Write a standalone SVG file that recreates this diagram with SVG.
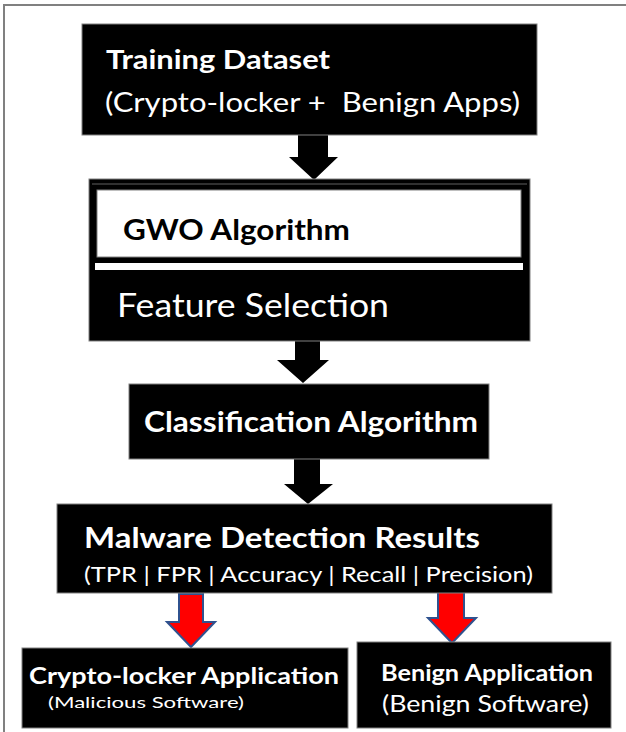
<svg xmlns="http://www.w3.org/2000/svg" width="626" height="732" viewBox="0 0 626 732">
<style>
.box{fill:#000;stroke:#808080;stroke-width:1}
.t{font-family:Lato,"Liberation Sans",Arial,sans-serif;fill:#fff}
.b{font-weight:bold}
.blk{fill:#000}
.arr{fill:#000}
.red{fill:#ff0000;stroke:#2f528f;stroke-width:2;stroke-linejoin:miter}
.frame{stroke:#808080;stroke-width:2;fill:none}
</style>
<rect width="626" height="732" fill="#fff"/>
<path class="frame" d="M4,732 V5 H626"/>
<g id="connectors">
<polygon class="arr" points="298,135 328,135 328,157 338,157 314,180 289,157 298,157"/>
<polygon class="arr" points="295,341 320,341 320,360 329,360 303,383 277,360 295,360"/>
<polygon class="arr" points="294,459 320,459 320,484 333,484 308,504 284,484 294,484"/>
<polygon class="red" points="179,594 203,594 203,622 215,622 191,647 167,622 179,622"/>
<polygon class="red" points="438,592 464,592 464,618 476,618 452,643 428,618 438,618"/>
</g>
<g id="training">
<rect class="box" x="82" y="24" width="455" height="111"/>
<text class="t b" x="106" y="69" font-size="27" textLength="224" lengthAdjust="spacingAndGlyphs">Training Dataset</text>
<text class="t" x="105" y="112" font-size="27" textLength="415" lengthAdjust="spacingAndGlyphs" xml:space="preserve">(Crypto-locker +  Benign Apps)</text>
</g>
<g id="gwo">
<rect class="box" x="89" y="179" width="441" height="162"/>
<line x1="92" y1="184" x2="527" y2="184" stroke="#606060" stroke-width="1"/>
<rect x="97" y="190" width="424" height="67" fill="#fff" stroke="#808080" stroke-width="1"/>
<rect x="95" y="263" width="428" height="7" fill="#fff"/>
<text class="t b blk" x="123" y="240" font-size="28" textLength="227" lengthAdjust="spacingAndGlyphs">GWO Algorithm</text>
<text class="t" x="117" y="317" font-size="33" textLength="272" lengthAdjust="spacingAndGlyphs">Feature Selection</text>
</g>
<g id="classification">
<rect class="box" x="129" y="384" width="360" height="75"/>
<text class="t b" x="144" y="432" font-size="28" textLength="334" lengthAdjust="spacingAndGlyphs">Classification Algorithm</text>
</g>
<g id="results">
<rect class="box" x="57" y="504" width="495" height="89"/>
<text class="t b" x="84" y="548" font-size="28" textLength="396" lengthAdjust="spacingAndGlyphs">Malware Detection Results</text>
<text class="t" x="84" y="582" font-size="22" textLength="449" lengthAdjust="spacingAndGlyphs">(TPR | FPR | Accuracy | Recall | Precision)</text>
</g>
<g id="cryptolocker">
<rect class="box" x="22" y="648" width="326" height="80"/>
<text class="t b" x="29" y="684" font-size="22" textLength="310" lengthAdjust="spacingAndGlyphs">Crypto-locker Application</text>
<text class="t" x="48" y="708" font-size="16" textLength="196" lengthAdjust="spacingAndGlyphs">(Malicious Software)</text>
</g>
<g id="benign">
<rect class="box" x="357" y="642" width="254" height="86"/>
<text class="t b" x="381" y="681" font-size="22" textLength="212" lengthAdjust="spacingAndGlyphs">Benign Application</text>
<text class="t" x="382" y="712" font-size="23" textLength="207" lengthAdjust="spacingAndGlyphs">(Benign Software)</text>
</g>
</svg>
